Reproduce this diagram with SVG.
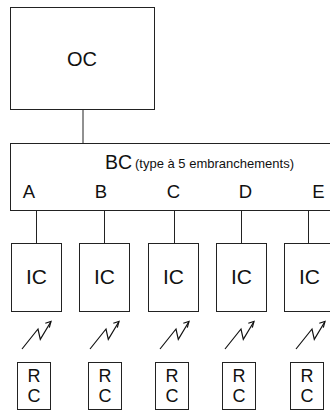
<svg xmlns="http://www.w3.org/2000/svg" width="330" height="412" viewBox="0 0 330 412">
<style>
.box{fill:#fff;stroke:#222;stroke-width:1}
.ln{fill:none;stroke:#222;stroke-width:1}
.bolt{fill:none;stroke:#111;stroke-width:1.2}
.t{font-family:"Liberation Sans",Arial,sans-serif;fill:#111;text-anchor:middle}
.oc{font-size:20px}
.ic{font-size:21px}
.bc{font-size:19.5px;text-anchor:start}
.lt{font-size:18.5px}
.rc{font-size:18px}
.sm{font-size:13px;text-anchor:start}
</style>
<defs>
<g id="bolt">
<path class="bolt" d="M-14,349 L2,329 L4.3,339.3 L15,321.5"/>
<path class="bolt" d="M9.3,323.3 L15,321.5 L13.3,327.7"/>
</g>
</defs>
<rect width="330" height="412" fill="#fff"/>
<g id="connectors">
<line class="ln" x1="83" y1="109.5" x2="83" y2="143.5"/>
<line class="ln" x1="36.5" y1="210.5" x2="36.5" y2="243.5"/>
<line class="ln" x1="104.5" y1="210.5" x2="104.5" y2="243.5"/>
<line class="ln" x1="174.5" y1="210.5" x2="174.5" y2="243.5"/>
<line class="ln" x1="241.5" y1="210.5" x2="241.5" y2="243.5"/>
<line class="ln" x1="308.5" y1="210.5" x2="308.5" y2="243.5"/>
</g>
<g id="OC">
<rect class="box" x="10.5" y="7.5" width="144" height="102"/>
<text class="t oc" x="82" y="65.5">OC</text>
</g>
<g id="BC">
<rect class="box" x="10.5" y="143.5" width="330" height="67"/>
<text class="t bc" x="105" y="168.5">BC</text>
<text class="t sm" x="135" y="168">(type à 5 embranchements)</text>
<text class="t lt" x="29" y="198">A</text>
<text class="t lt" x="101" y="198">B</text>
<text class="t lt" x="173.5" y="198">C</text>
<text class="t lt" x="245.5" y="198">D</text>
<text class="t lt" x="318.5" y="198">E</text>
</g>
<g id="IC-A"><rect class="box" x="11.5" y="243.5" width="50" height="68"/><text class="t ic" x="36.5" y="283.5">IC</text></g>
<g id="IC-B"><rect class="box" x="79.5" y="243.5" width="50" height="68"/><text class="t ic" x="104.5" y="283.5">IC</text></g>
<g id="IC-C"><rect class="box" x="148.5" y="243.5" width="50" height="68"/><text class="t ic" x="173.5" y="283.5">IC</text></g>
<g id="IC-D"><rect class="box" x="216.5" y="243.5" width="50" height="68"/><text class="t ic" x="241.5" y="283.5">IC</text></g>
<g id="IC-E"><rect class="box" x="284.5" y="243.5" width="50" height="68"/><text class="t ic" x="309.5" y="283.5">IC</text></g>
<g id="links">
<use href="#bolt" x="36"/>
<use href="#bolt" x="104"/>
<use href="#bolt" x="174"/>
<use href="#bolt" x="239"/>
<use href="#bolt" x="310"/>
</g>
<g id="RC-A"><rect class="box" x="17.5" y="362.5" width="33" height="47"/><text class="t rc" x="34" y="381.5">R</text><text class="t rc" x="34" y="402">C</text></g>
<g id="RC-B"><rect class="box" x="88.5" y="362.5" width="33" height="47"/><text class="t rc" x="105" y="381.5">R</text><text class="t rc" x="105" y="402">C</text></g>
<g id="RC-C"><rect class="box" x="155.5" y="362.5" width="33" height="47"/><text class="t rc" x="172" y="381.5">R</text><text class="t rc" x="172" y="402">C</text></g>
<g id="RC-D"><rect class="box" x="222.5" y="362.5" width="33" height="47"/><text class="t rc" x="239" y="381.5">R</text><text class="t rc" x="239" y="402">C</text></g>
<g id="RC-E"><rect class="box" x="290.5" y="362.5" width="33" height="47"/><text class="t rc" x="307" y="381.5">R</text><text class="t rc" x="307" y="402">C</text></g>
</svg>
